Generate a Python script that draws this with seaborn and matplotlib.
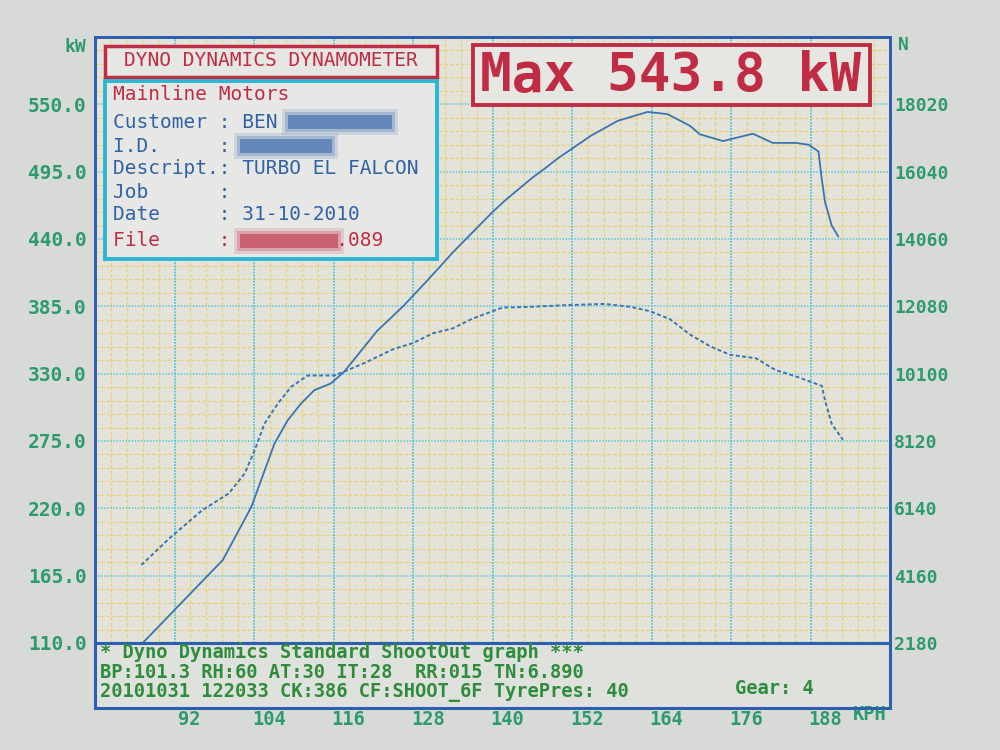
import matplotlib
matplotlib.use("Agg")
import matplotlib.pyplot as plt
import seaborn as sns
from matplotlib.patches import Rectangle
from matplotlib.transforms import ScaledTranslation

# --- data ---
power_kph = [87.2, 89.7, 92.0, 96.2, 99.3, 103.6, 107.1, 109.1, 111.1, 113.1,
             115.6, 117.6, 122.6, 126.5, 129.8, 132.0, 134.0, 136.0, 138.0, 140.0,
             142.0, 144.0, 146.0, 148.0, 149.9, 154.9, 158.9, 163.4, 166.4, 169.8,
             171.3, 174.8, 179.3, 182.3, 185.8, 187.7, 189.2, 189.7, 190.2, 191.2, 192.2]
power_kw = [110.0, 124.0, 137.0, 160.5, 177.8, 221.2, 273.0, 292.0, 305.6, 316.5,
            322.0, 331.5, 365.0, 385.0, 404.0, 417.0, 429.0, 440.0, 451.0, 462.0,
            472.0, 481.0, 490.0, 498.0, 506.0, 524.5, 536.5, 543.8, 542.0, 532.5,
            525.5, 520.0, 526.0, 518.5, 518.5, 517.0, 511.5, 489.0, 470.0, 451.0, 442.0]

force_kph = [87.0, 91.2, 96.2, 100.2, 102.6, 104.1, 105.6, 107.6, 109.6, 112.1,
             116.1, 117.3, 121.0, 125.0, 128.0, 131.0, 134.0, 137.0, 141.5, 145.4,
             151.4, 156.9, 160.9, 163.8, 166.8, 169.8, 172.8, 175.8, 179.8, 182.7,
             186.2, 189.7, 190.2, 191.2, 192.9]
force_n = [4473, 5254, 6086, 6579, 7166, 7850, 8635, 9222, 9711, 10046,
           10046, 10136, 10442, 10820, 11000, 11288, 11432, 11720, 12044, 12062,
           12116, 12152, 12062, 11936, 11702, 11252, 10910, 10658, 10550, 10208,
           9992, 9740, 9308, 8624, 8156]

kph_ticks = [92, 104, 116, 128, 140, 152, 164, 176, 188]
kw_ticks = [110, 165, 220, 275, 330, 385, 440, 495, 550]
n_ticks = [2180, 4160, 6140, 8120, 10100, 12080, 14060, 16040, 18020]

# colours
PAPER = "#d7dad6"
GRID_BG = "#e3e3da"
CYAN = "#5cc6d6"
YELLOW = "#e8d27a"
FRAME = "#2d5fb0"
RED = "#c02c44"
BLUE_TXT = "#2f62a8"
TEAL = "#2e9a72"
GREEN = "#2f8c3c"
CURVE = "#3a74b4"

sns.set_theme(style="white", rc={"axes.facecolor": GRID_BG, "figure.facecolor": PAPER})
plt.rcParams["font.family"] = ["DejaVu Sans Mono", "DejaVu Sans"]

fig = plt.figure(figsize=(10, 7.5), dpi=100)
ax = fig.add_axes([0.095, 1 - 643 / 750, 0.795, (643 - 37) / 750])
ax.set_xlim(80, 200)
ax.set_ylim(110, 605)

# minor yellow grid, major cyan dotted lines
ax.set_xticks([80 + 2.4 * i for i in range(51)], minor=True)
ax.set_yticks([110 + 11 * i for i in range(46)], minor=True)
ax.grid(which="minor", color=YELLOW, linestyle=(0, (3, 1.5)), linewidth=0.9)
ax.tick_params(which="minor", length=0)
for xv in kph_ticks + [80 + 12 * i for i in range(11)]:
    ax.axvline(xv, color=CYAN, linestyle=(0, (1, 1)), linewidth=1.1, zorder=1.5)
for yv in kw_ticks + [605]:
    ax.axhline(yv, color=CYAN, linestyle=(0, (1, 1)), linewidth=1.1, zorder=1.5)

sns.lineplot(x=power_kph, y=power_kw, ax=ax, sort=False, estimator=None,
             color=CURVE, linewidth=1.3, zorder=3)

ax.set_xticks(kph_ticks)
ax.set_xticklabels([str(v) for v in kph_ticks])
ax.set_yticks(kw_ticks)
ax.set_yticklabels([f"{v:.1f}" for v in kw_ticks])
ax.tick_params(axis="x", length=0, pad=48, labelsize=13.5, labelcolor=TEAL)
ax.tick_params(axis="y", length=0, pad=6, labelsize=14, labelcolor=TEAL)
for lbl in ax.get_xticklabels():
    lbl.set_fontweight("bold")
    lbl.set_transform(lbl.get_transform() + ScaledTranslation(0.15, 0, fig.dpi_scale_trans))
for lbl in ax.get_yticklabels():
    lbl.set_fontweight("bold")
ax.set_xlabel("")
ax.set_ylabel("")

# twin axis for tractive effort
ax2 = ax.twinx()
ax2.set_ylim(2180, 20000)
sns.lineplot(x=force_kph, y=force_n, ax=ax2, sort=False, estimator=None,
             color=CURVE, linewidth=1.4, linestyle=(0, (2, 1.3)), zorder=3)
ax2.set_yticks(n_ticks)
ax2.set_yticklabels([str(v) for v in n_ticks])
ax2.tick_params(axis="y", length=0, pad=3, labelsize=13, labelcolor=TEAL)
for lbl in ax2.get_yticklabels():
    lbl.set_fontweight("bold")
ax2.set_ylabel("")
ax2.grid(False)

for a in (ax, ax2):
    for side in ("left", "top", "right"):
        a.spines[side].set_color(FRAME)
        a.spines[side].set_linewidth(1.8)
    a.spines["bottom"].set_color(CYAN)
    a.spines["bottom"].set_linewidth(1.5)

# lower text panel inside the frame
fig.patches.append(Rectangle((0.095, 1 - 708 / 750), 0.795, (708 - 643) / 750,
                             transform=fig.transFigure, facecolor="#dfe1dd",
                             edgecolor=FRAME, linewidth=2.2, zorder=0))
fig.patches.append(Rectangle((0.095, 1 - 708 / 750), 0.795, (708 - 37) / 750,
                             transform=fig.transFigure, fill=False,
                             edgecolor=FRAME, linewidth=2.0, zorder=5))


def fx(px):
    return px / 1000


def fy(py):
    return 1 - py / 750


foot = ["* Dyno Dynamics Standard ShootOut graph ***",
        "BP:101.3 RH:60 AT:30 IT:28  RR:015 TN:6.890",
        "20101031 122033 CK:386 CF:SHOOT_6F TyrePres: 40"]
for i, line in enumerate(foot):
    fig.text(fx(100), fy(652 + 20.5 * i), line, color=GREEN, fontsize=13.5,
             fontweight="bold", ha="left", va="center")
fig.text(fx(735), fy(689), "Gear: 4", color=GREEN, fontsize=13.5,
         fontweight="bold", ha="left", va="center")

# axis unit captions
fig.text(fx(75), fy(47), "kW", color=TEAL, fontsize=13, fontweight="bold", ha="center", va="center")
fig.text(fx(903), fy(45), "N", color=TEAL, fontsize=13, fontweight="bold", ha="center", va="center")
fig.text(fx(870), fy(714), "KPH", color=TEAL, fontsize=13.5, fontweight="bold", ha="center", va="center")

# header boxes
fig.patches.append(Rectangle((fx(105), fy(77)), (437 - 105) / 1000, (77 - 46) / 750,
                             transform=fig.transFigure, facecolor="#e6e6e3",
                             edgecolor=RED, linewidth=2.5, zorder=6))
fig.text(fx(271), fy(61), "DYNO DYNAMICS DYNAMOMETER", color=RED, fontsize=14,
         ha="center", va="center", zorder=7)

fig.patches.append(Rectangle((fx(105), fy(259)), (437 - 105) / 1000, (259 - 81) / 750,
                             transform=fig.transFigure, facecolor="#e7e8e6",
                             edgecolor="#2bb6d2", linewidth=2.8, zorder=6))
info = [("Mainline Motors", RED, 95),
        ("Customer : BEN", BLUE_TXT, 122),
        ("I.D.     :", BLUE_TXT, 146),
        ("Descript.: TURBO EL FALCON", BLUE_TXT, 169),
        ("Job      :", BLUE_TXT, 192),
        ("Date     : 31-10-2010", BLUE_TXT, 215),
        ("File     :" + " " * 9 + ".089", RED, 241)]
for txt, col, ypix in info:
    fig.text(fx(113), fy(ypix), txt, color=col, fontsize=14, ha="left",
             va="center", zorder=7)

# blurred-out private fields
for x0, x1, ypix, col in [(288, 392, 122, BLUE_TXT), (240, 332, 146, BLUE_TXT),
                          (240, 338, 241, RED)]:
    for grow, alpha in [(6, 0.15), (3, 0.25), (0, 0.55)]:
        fig.patches.append(Rectangle((fx(x0 - grow), fy(ypix + 7 + grow)),
                                     (x1 - x0 + 2 * grow) / 1000, (14 + 2 * grow) / 750,
                                     transform=fig.transFigure, facecolor=col,
                                     edgecolor="none", alpha=alpha, zorder=7))

fig.patches.append(Rectangle((fx(473), fy(105)), (870 - 473) / 1000, (105 - 45) / 750,
                             transform=fig.transFigure, facecolor="#e6e6e3",
                             edgecolor=RED, linewidth=2.8, zorder=6))
fig.text(fx(671), fy(76), "Max 543.8 kW", color=RED, fontsize=38, fontweight="bold",
         ha="center", va="center", zorder=7)

fig.savefig("out.png", dpi=100, facecolor=PAPER)
